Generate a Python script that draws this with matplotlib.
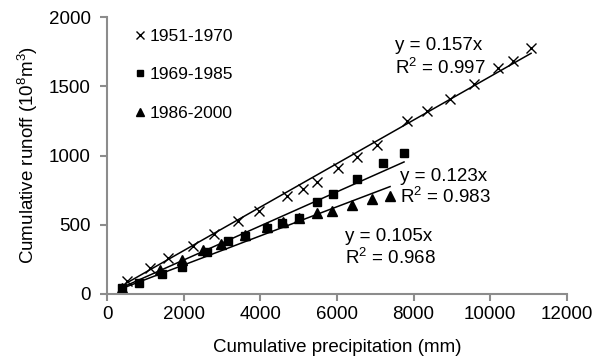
import matplotlib
matplotlib.use("Agg")
import matplotlib.pyplot as plt

plt.rcParams["font.family"] = ["Liberation Sans", "DejaVu Sans"]
plt.rcParams["mathtext.default"] = "regular"

# 1951-1970
p1 = [507, 1115, 1594, 2247, 2795, 3422, 3971, 4687, 5120, 5470,
      6035, 6515, 7038, 7821, 8344, 8953, 9580, 10214, 10606, 11069]
r1 = [94, 190, 258, 349, 433, 529, 601, 708, 758, 807,
      908, 991, 1076, 1249, 1323, 1408, 1514, 1634, 1682, 1774]
# 1969-1985
p2 = [376, 836, 1429, 1951, 2597, 3145, 3597, 4164, 4556, 5016,
      5486, 5904, 6515, 7210, 7751]
r2 = [41, 82, 144, 193, 305, 385, 419, 474, 515, 549,
      662, 720, 830, 948, 1016]
# 1986-2000
p3 = [376, 1377, 1944, 2508, 2962, 3597, 4164, 4582, 5008, 5486,
      5872, 6385, 6907, 7386]
r3 = [45, 173, 245, 318, 361, 424, 482, 522, 546, 582,
      599, 639, 684, 708]

slopes = [0.157, 0.123, 0.105]
r2vals = [0.997, 0.983, 0.968]
labels = ["1951-1970", "1969-1985", "1986-2000"]

fig = plt.figure(figsize=(6.04, 3.56), dpi=100)
ax = fig.add_axes([0.1777, 0.1742, 0.7605, 0.778])

grey = "#8c8c8c"
ax.plot(p1, r1, "x", color="black", ms=7, mew=1.0, label=labels[0])
ax.plot(p2, r2, "s", color="black", ms=6, label=labels[1])
ax.plot(p3, r3, "^", color="black", ms=7, label=labels[2])

for xs, k in zip([p1, p2, p3], slopes):
    x0, x1 = min(xs), max(xs)
    ax.plot([x0, x1], [k * x0, k * x1], color="black", lw=1.1)

fs = 13.5
ax.text(7516, 1791, "y = %.3fx" % slopes[0], fontsize=fs, va="center")
ax.text(7516, 1632, "R$^2$ = %.3f" % r2vals[0], fontsize=fs, va="center")
ax.text(7646, 847, "y = %.3fx" % slopes[1], fontsize=fs, va="center")
ax.text(7646, 703, "R$^2$ = %.3f" % r2vals[1], fontsize=fs, va="center")
ax.text(6208, 414, "y = %.3fx" % slopes[2], fontsize=fs, va="center")
ax.text(6208, 258, "R$^2$ = %.3f" % r2vals[2], fontsize=fs, va="center")

ax.set_xlim(0, 12000)
ax.set_ylim(0, 2000)
ax.set_xticks(range(0, 12001, 2000))
ax.set_yticks(range(0, 2001, 500))
ax.tick_params(labelsize=fs, color=grey, width=1.5, length=5, direction="out")
ax.tick_params(axis="y", pad=7)
ax.tick_params(axis="x", pad=4)
for s in ["top", "right"]:
    ax.spines[s].set_visible(False)
for s in ["left", "bottom"]:
    ax.spines[s].set_color(grey)
    ax.spines[s].set_linewidth(1.5)

ax.set_xlabel("Cumulative precipitation (mm)", fontsize=fs, labelpad=11)
ax.set_ylabel("Cumulative runoff (10$^8$m$^3$)", fontsize=fs, labelpad=6)

leg = ax.legend(loc="upper left", bbox_to_anchor=(0.025, 1.015), frameon=False,
                fontsize=12.5, handlelength=0.6, handletextpad=0.25,
                labelspacing=1.35, markerscale=0.75)

fig.savefig("out.png", dpi=100)
